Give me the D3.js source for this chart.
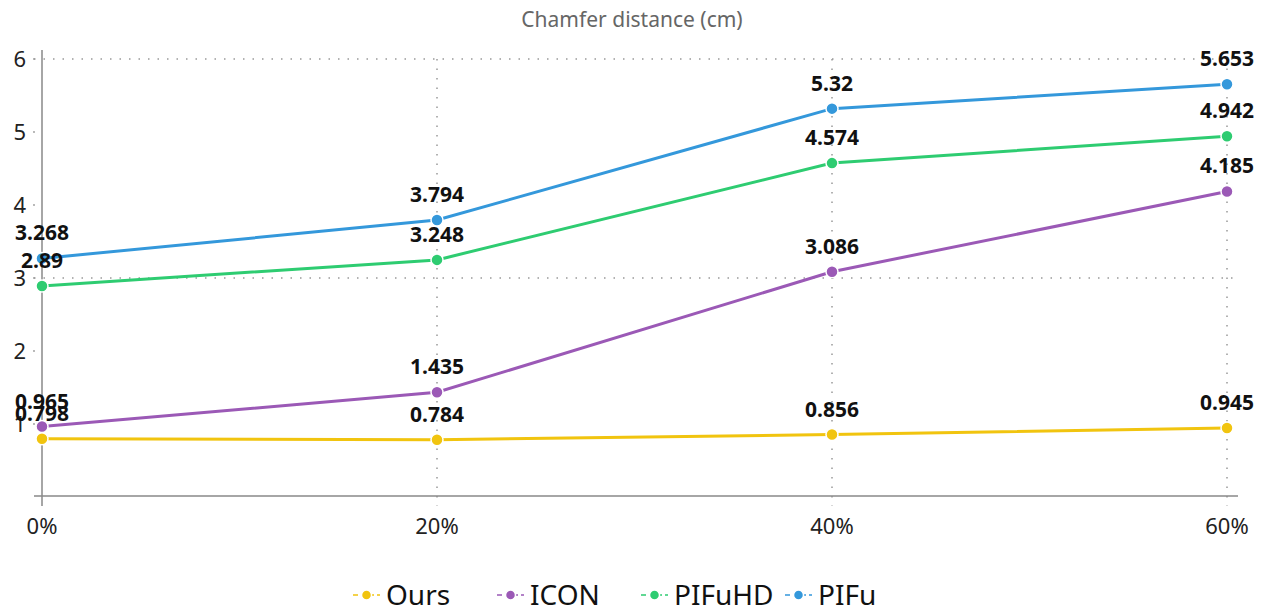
<!DOCTYPE html>
<html>
<head>
<meta charset="utf-8">
<script src="https://cdn.jsdelivr.net/npm/d3@7"></script>
<style>
  body { margin: 0; background: #fff; }
  svg { font-family: "Noto Sans", "Open Sans", sans-serif; }
</style>
</head>
<body>
<div id="chart"></div>
<script>
var categories = ["0%", "20%", "40%", "60%"];
var seriesNames = ["Ours", "ICON", "PIFuHD", "PIFu"];
var oursValues = [0.798, 0.784, 0.856, 0.945];
var iconValues = [0.965, 1.435, 3.086, 4.185];
var pifuhdValues = [2.89, 3.248, 4.574, 4.942];
var pifuValues = [3.268, 3.794, 5.32, 5.653];
var yTicks = [1, 2, 3, 4, 5, 6];
var yGridTicks = [3, 6];
var colors = ["#f1c40f", "#9b59b6", "#2ecc71", "#3498db"];

var series = [oursValues, iconValues, pifuhdValues, pifuValues].map(function(v, i) {
    return { name: seriesNames[i], values: v, color: colors[i] };
});

var width = 1262, height = 609;
var margin = { top: 59, right: 35, bottom: 112, left: 42 };
var w = width - margin.left - margin.right;
var h = height - margin.top - margin.bottom;

var svg = d3.select("#chart").append("svg")
    .attr("width", width)
    .attr("height", height);

var g = svg.append("g")
    .attr("transform", "translate(" + margin.left + "," + margin.top + ")");

var x = d3.scalePoint().domain(categories).range([0, w]);
var y = d3.scaleLinear().domain([0, 6]).range([h, 0]);

// title
svg.append("text")
    .attr("x", 632)
    .attr("y", 27)
    .attr("text-anchor", "middle")
    .style("font-size", "21px")
    .style("fill", "#666")
    .text("Chamfer distance (cm)");

// horizontal dotted grid
g.selectAll(".hgrid")
    .data(yGridTicks)
    .enter().append("line")
    .attr("class", "hgrid")
    .attr("x1", -8).attr("x2", w + 11)
    .attr("y1", function(d) { return y(d); })
    .attr("y2", function(d) { return y(d); })
    .style("stroke", "#999")
    .style("stroke-width", 1.5)
    .style("stroke-dasharray", "1.5,8");

// vertical dotted grid
g.selectAll(".vgrid")
    .data(categories.slice(1))
    .enter().append("line")
    .attr("class", "vgrid")
    .attr("x1", function(d) { return x(d); })
    .attr("x2", function(d) { return x(d); })
    .attr("y1", 0).attr("y2", h + 9)
    .style("stroke", "#999")
    .style("stroke-width", 1.5)
    .style("stroke-dasharray", "1.5,8");

// y tick dots
g.selectAll(".ytickdot")
    .data(yTicks)
    .enter().append("circle")
    .attr("cx", -8)
    .attr("cy", function(d) { return y(d); })
    .attr("r", 0.9)
    .style("fill", "#999");

// axes lines
g.append("line")
    .attr("x1", 0).attr("x2", 0)
    .attr("y1", -9).attr("y2", h + 9)
    .style("stroke", "#888").style("stroke-width", 1.5);

g.append("line")
    .attr("x1", -8).attr("x2", w + 11)
    .attr("y1", h - 1).attr("y2", h - 1)
    .style("stroke", "#888").style("stroke-width", 1.5);

// y labels
g.selectAll(".ylab")
    .data(yTicks)
    .enter().append("text")
    .attr("x", -16)
    .attr("y", function(d) { return y(d); })
    .attr("dy", "0.35em")
    .attr("text-anchor", "end")
    .style("font-size", "22px")
    .style("fill", "#222")
    .text(function(d) { return d; });

// x labels
g.selectAll(".xlab")
    .data(categories)
    .enter().append("text")
    .attr("x", function(d) { return x(d); })
    .attr("y", h + 37)
    .attr("text-anchor", "middle")
    .style("font-size", "22px")
    .style("fill", "#222")
    .text(function(d) { return d; });

var line = d3.line()
    .x(function(d, i) { return x(categories[i]); })
    .y(function(d) { return y(d); });

series.forEach(function(s) {
    g.append("path")
        .datum(s.values)
        .attr("d", line)
        .style("fill", "none")
        .style("stroke", s.color)
        .style("stroke-width", 3);
});

series.forEach(function(s) {
    g.selectAll(null)
        .data(s.values)
        .enter().append("circle")
        .attr("cx", function(d, i) { return x(categories[i]); })
        .attr("cy", function(d) { return y(d); })
        .attr("r", 6)
        .style("fill", s.color)
        .style("stroke", "#fff")
        .style("stroke-width", 1.5);
});

series.forEach(function(s) {
    g.selectAll(null)
        .data(s.values)
        .enter().append("text")
        .attr("x", function(d, i) { return x(categories[i]); })
        .attr("y", function(d) { return y(d) - 18; })
        .attr("text-anchor", "middle")
        .style("font-size", "21px")
        .style("font-weight", "bold")
        .style("fill", "#111")
        .text(function(d) { return d; });
});

// legend
var legendX = [353, 497, 641, 785];
var legend = svg.selectAll(".legend")
    .data(series)
    .enter().append("g")
    .attr("class", "legend")
    .attr("transform", function(d, i) { return "translate(" + legendX[i] + ",595)"; });

legend.append("line")
    .attr("x1", 0).attr("x2", 27)
    .attr("y1", 0).attr("y2", 0)
    .style("stroke", function(d) { return d.color; })
    .style("stroke-width", 1.5)
    .style("stroke-dasharray", "5,3");

legend.append("circle")
    .attr("cx", 13.5).attr("cy", 0).attr("r", 5)
    .style("fill", function(d) { return d.color; })
    .style("stroke", "#fff")
    .style("stroke-width", 1.5);

legend.append("text")
    .attr("x", 33)
    .attr("dy", "0.35em")
    .style("font-size", "28px")
    .style("fill", "#111")
    .text(function(d) { return d.name; });
</script>
</body>
</html>
